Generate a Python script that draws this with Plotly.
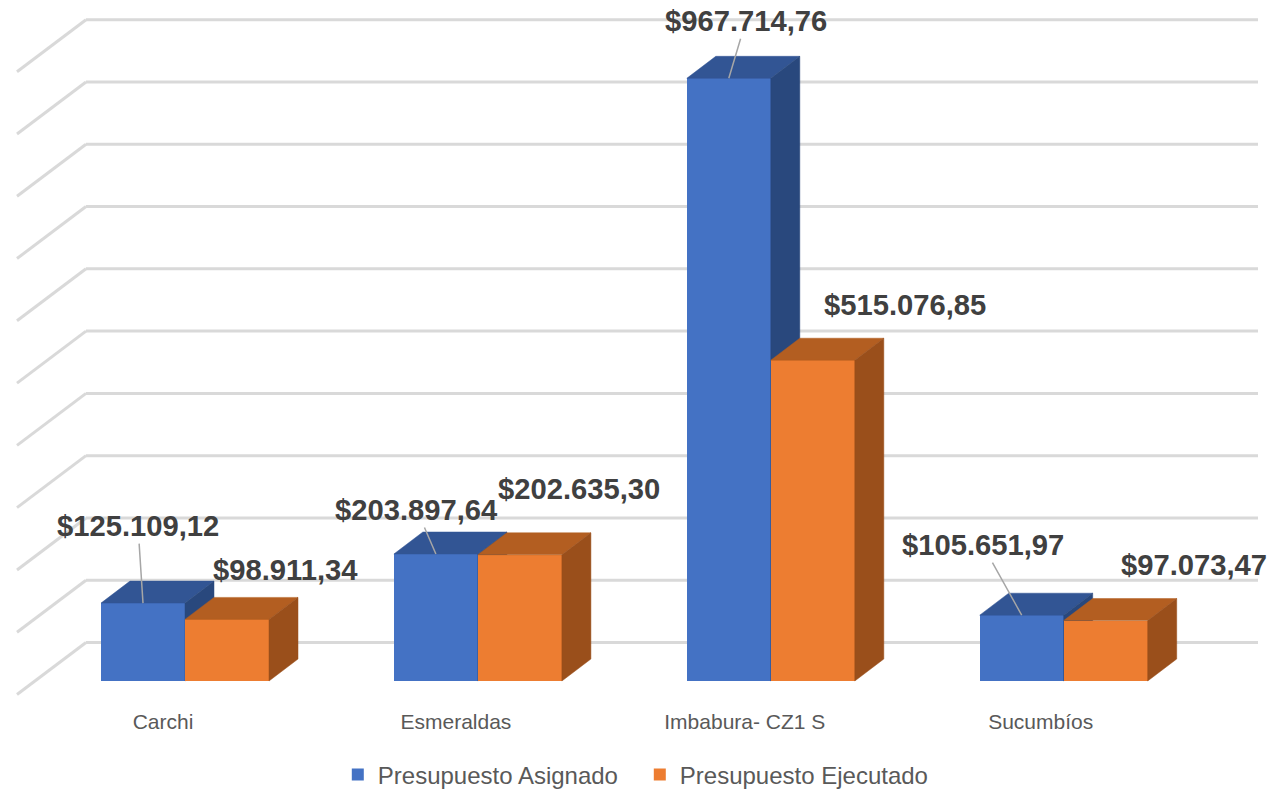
import plotly.graph_objects as go

PROVINCES = ["Carchi", "Esmeraldas", "Imbabura- CZ1 S", "Sucumbíos"]
ASIGNADO = [125109.12, 203897.64, 967714.76, 105651.97]
EJECUTADO = [98911.34, 202635.30, 515076.85, 97073.47]
ASIGNADO_LABELS = ["$125.109,12", "$203.897,64", "$967.714,76", "$105.651,97"]
EJECUTADO_LABELS = ["$98.911,34", "$202.635,30", "$515.076,85", "$97.073,47"]
GRID_VALUES = [0, 100000, 200000, 300000, 400000, 500000, 600000, 700000, 800000, 900000, 1000000]

# label offsets from the top of each bar, in px
ASIGNADO_OFFSETS = [(-5, -77), (-19, -44), (17, -57), (-39, -70)]
EJECUTADO_OFFSETS = [(58, -49), (59, -66), (92, -55), (88, -56)]
TICK_SHIFTS = [-22, -22, -26, -23]

COLORS = {
    "blue": "#4472C4", "blue_top": "#325594", "blue_side": "#29487D",
    "orange": "#ED7D31", "orange_top": "#B35E21", "orange_side": "#9A4F1B",
    "grid": "#D9D9D9", "label": "#404040", "muted": "#595959", "leader": "#A6A6A6",
}
FONT = "Liberation Sans"

# pixel scale of the axes, used to turn the fake 3D depth into data units
WIDTH, HEIGHT = 1268, 791
PLOT_BOTTOM = 700
X_PX = 292.9                 # px per category
Y_PX = 622.8 / 1000000       # px per dollar
X_ZERO_PX, Y_ZERO_PX = 185.0, 681.0

x_range = [-X_ZERO_PX / X_PX, (WIDTH - X_ZERO_PX) / X_PX]
y_range = [(Y_ZERO_PX - PLOT_BOTTOM) / Y_PX, Y_ZERO_PX / Y_PX]

BAR_W = 84 / X_PX
BAR_DX, BAR_DY = 29 / X_PX, 22 / Y_PX
WALL_LEFT = (86 - X_ZERO_PX) / X_PX
WALL_RIGHT = (1258 - X_ZERO_PX) / X_PX
WALL_DX, WALL_DY = 69 / X_PX, 52 / Y_PX
BACK_Y = 38.5 / Y_PX


def polygons(rings):
    xs, ys = [], []
    for ring in rings:
        xs += [p[0] for p in ring] + [ring[0][0], None]
        ys += [p[1] for p in ring] + [ring[0][1], None]
    return xs, ys


def face_trace(rings, color, xaxis, yaxis):
    xs, ys = polygons(rings)
    return go.Scatter(
        x=xs, y=ys, mode="lines", fill="toself", fillcolor=color,
        line=dict(color=color, width=0.5), hoverinfo="skip", showlegend=False,
        xaxis=xaxis, yaxis=yaxis,
    )


def add_series(fig, values, name, left_shift, color, top, side, xaxis, yaxis):
    idx = list(range(len(values)))
    fig.add_trace(go.Bar(
        x=idx, y=values, width=BAR_W, offset=left_shift, name=name,
        marker=dict(color=color, line=dict(width=0)), xaxis=xaxis, yaxis=yaxis,
    ))
    tops, sides = [], []
    for i, v in zip(idx, values):
        x0, x1 = i + left_shift, i + left_shift + BAR_W
        tops.append([(x0, v), (x1, v), (x1 + BAR_DX, v + BAR_DY), (x0 + BAR_DX, v + BAR_DY)])
        sides.append([(x1, 0), (x1 + BAR_DX, BAR_DY), (x1 + BAR_DX, v + BAR_DY), (x1, v)])
    fig.add_trace(face_trace(tops, top, xaxis, yaxis))
    fig.add_trace(face_trace(sides, side, xaxis, yaxis))


fig = go.Figure()

# back wall and left wall gridlines, as shapes so they stay under the bars
for g in GRID_VALUES:
    back = g + BACK_Y
    line = dict(color=COLORS["grid"], width=3)
    fig.add_shape(type="line", x0=WALL_LEFT - WALL_DX, y0=back - WALL_DY, x1=WALL_LEFT, y1=back,
                  line=line, layer="below")
    fig.add_shape(type="line", x0=WALL_LEFT, y0=back, x1=WALL_RIGHT, y1=back,
                  line=line, layer="below")

add_series(fig, ASIGNADO, "Presupuesto Asignado", -BAR_W,
           COLORS["blue"], COLORS["blue_top"], COLORS["blue_side"], "x", "y")
# second overlaid subplot so the orange bars sit over the blue side faces
add_series(fig, EJECUTADO, "Presupuesto Ejecutado", 0,
           COLORS["orange"], COLORS["orange_top"], COLORS["orange_side"], "x2", "y2")

label_font = dict(family=FONT, size=29.2, color=COLORS["label"])
for i, (v, text, (ax, ay)) in enumerate(zip(ASIGNADO, ASIGNADO_LABELS, ASIGNADO_OFFSETS)):
    fig.add_annotation(
        x=i - BAR_W / 2, y=v, text=f"<b>{text}</b>", font=label_font,
        showarrow=True, arrowhead=0, arrowwidth=1.5, arrowcolor=COLORS["leader"],
        ax=ax, ay=ay, standoff=0,
    )
for i, (v, text, (dx, dy)) in enumerate(zip(EJECUTADO, EJECUTADO_LABELS, EJECUTADO_OFFSETS)):
    fig.add_annotation(
        x=i + BAR_W / 2, y=v, text=f"<b>{text}</b>", font=label_font,
        showarrow=False, xshift=dx, yshift=-dy,
    )

fig.update_layout(
    width=WIDTH, height=HEIGHT,
    paper_bgcolor="white", plot_bgcolor="white",
    font=dict(family=FONT, color=COLORS["muted"]),
    margin=dict(l=0, r=0, t=0, b=HEIGHT - PLOT_BOTTOM, autoexpand=False),
    bargap=0,
    xaxis=dict(
        range=x_range, showgrid=False, zeroline=False, showline=False, ticks="",
        tickmode="array", tickvals=[i + s / X_PX for i, s in enumerate(TICK_SHIFTS)],
        ticktext=PROVINCES, tickfont=dict(size=21, color=COLORS["muted"]),
        ticklabelstandoff=7,
    ),
    yaxis=dict(range=y_range, visible=False),
    xaxis2=dict(range=x_range, overlaying="x", visible=False),
    yaxis2=dict(range=y_range, overlaying="y", visible=False),
    legend=dict(
        orientation="h", x=0.2664, xanchor="left", y=-0.107, yanchor="middle",
        font=dict(size=24, color=COLORS["muted"]), entrywidth=257,
        bgcolor="rgba(0,0,0,0)",
    ),
)

fig.write_html("out.html", config=dict(displayModeBar=False),
               post_script="document.body.style.margin = '0';")
